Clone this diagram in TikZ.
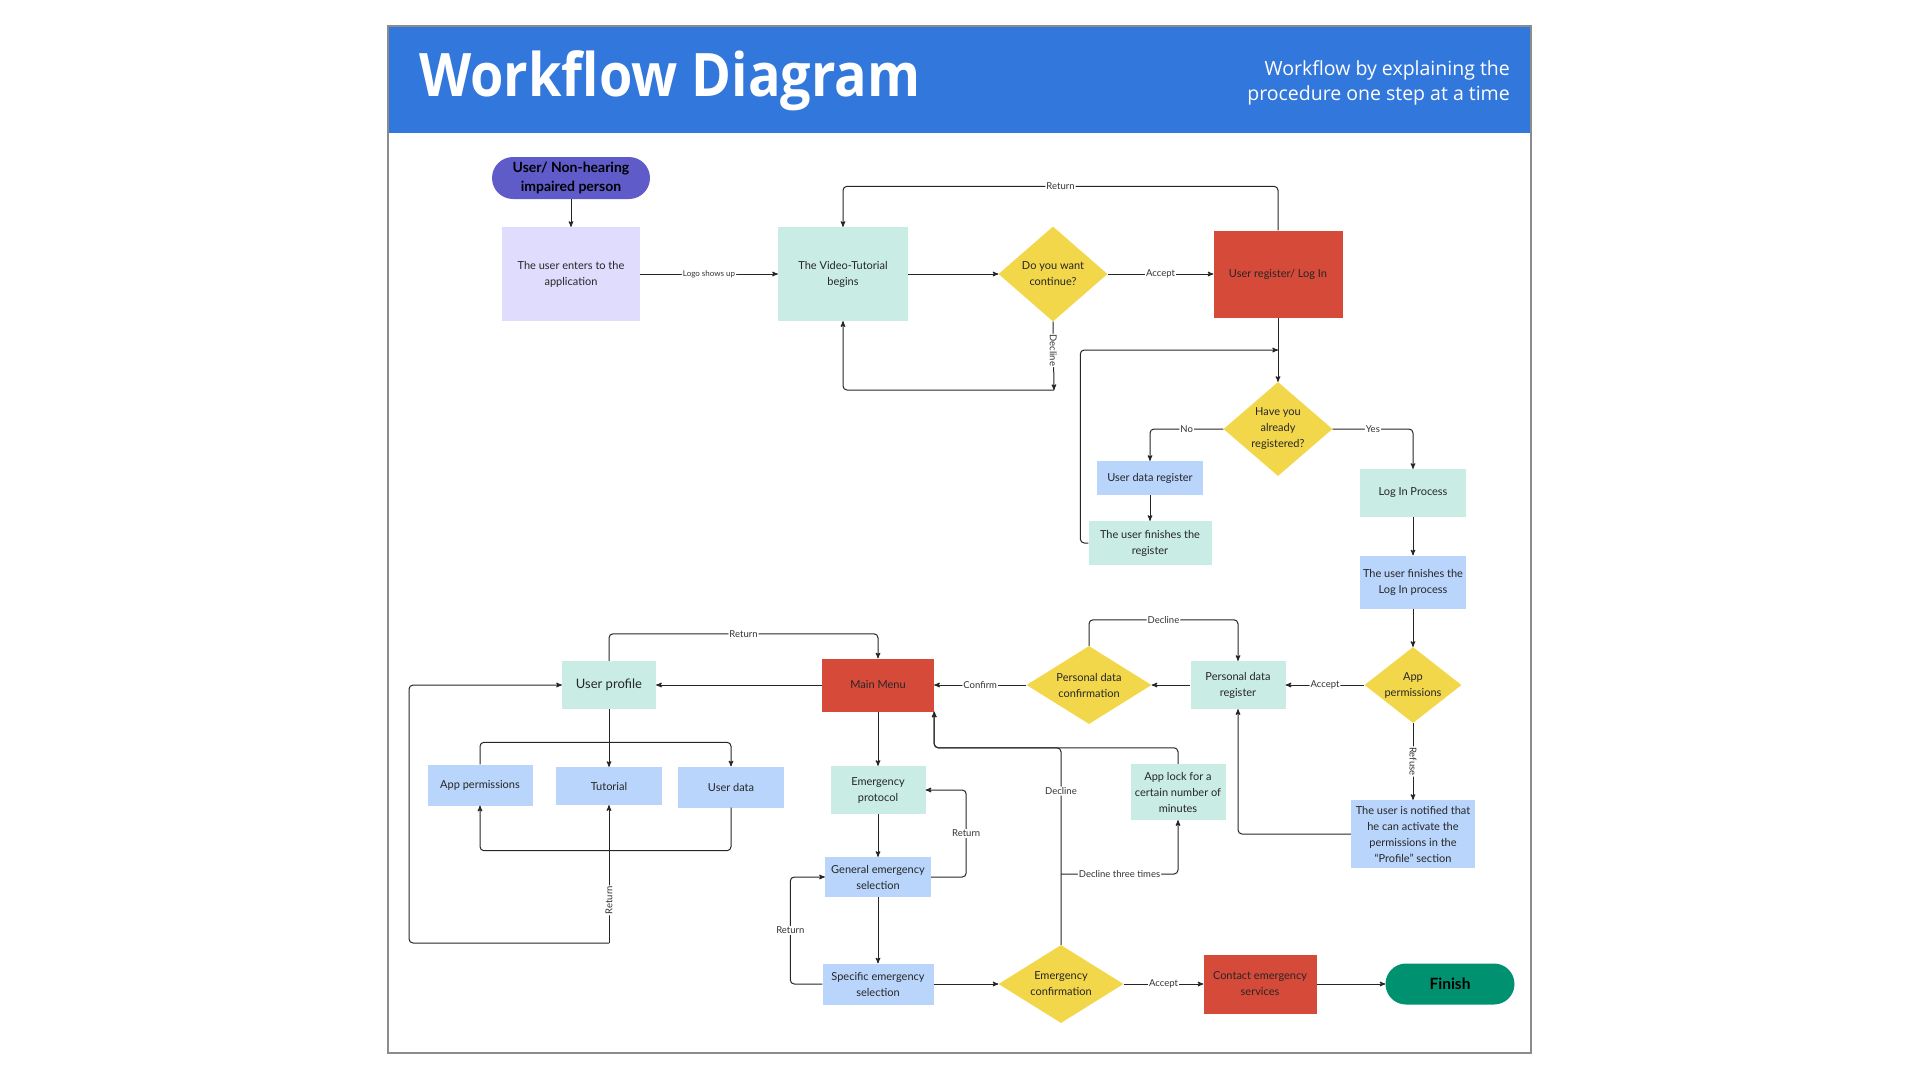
\documentclass[tikz,border=0pt]{standalone}
\usepackage{fontspec}
\setmainfont{Lato}
\newfontfamily\headfont{Open Sans}
\usepackage{graphicx}
\usetikzlibrary{shapes,arrows}

\definecolor{headblue}{HTML}{3277DB}
\definecolor{pillpurple}{HTML}{5F5BC8}
\definecolor{lavender}{HTML}{E0DCFE}
\definecolor{mint}{HTML}{C9ECE4}
\definecolor{askyellow}{HTML}{F3D74B}
\definecolor{alertred}{HTML}{D64A3A}
\definecolor{skyblue}{HTML}{B9D5FB}
\definecolor{finishgreen}{HTML}{009170}
\definecolor{framegray}{HTML}{8C8C8C}

\begin{document}
\begin{tikzpicture}[x=1pt,y=-1pt,>=stealth',font=\fontsize{11}{16}\selectfont]
\tikzstyle{box}=[rectangle,inner sep=0pt,align=center,text=black!85]
\tikzstyle{pill}=[rectangle,inner sep=0pt,align=center,font=\bfseries\fontsize{14}{19}\selectfont]
\tikzstyle{ask}=[diamond,fill=askyellow,inner sep=0pt,align=center,text=black!85]
\tikzstyle{lbl}=[fill=white,inner sep=1pt,font=\fontsize{9.5}{11}\selectfont,text=black!80]
\tikzstyle{link}=[->,draw=black!85,line width=1pt,rounded corners=4pt]

\useasboundingbox (0,0) rectangle (1920,1080);
\fill[headblue] (388,26) rectangle (1531,133);
\draw[framegray,line width=1.5pt] (388,26) rectangle (1531,1053);
\node[anchor=base west,inner sep=0pt,text=white] (title) at (419,96)
  {\scalebox{0.9}[1]{\headfont\bfseries\fontsize{60}{60}\selectfont Workflow Diagram}};
\node[anchor=north east,inner sep=0pt,align=right,text=white,font=\headfont\fontsize{19.5}{25}\selectfont] (subtitle) at (1510,60)
  {Workflow by explaining the\\procedure one step at a time};

% top row
\node[pill,fill=pillpurple,rounded corners=21pt,minimum width=158,minimum height=42] (user) at (571,178) {User/ Non-hearing\\impaired person};
\node[box,fill=lavender,minimum width=138,minimum height=94] (enter) at (571,274) {The user enters to the\\application};
\node[box,fill=mint,minimum width=130,minimum height=94] (video) at (843,274) {The Video-Tutorial\\begins};
\node[ask,aspect=1.15,minimum width=109,minimum height=95] (cont) at (1053,274) {Do you want\\continue?};
\node[box,fill=alertred,minimum width=129,minimum height=87] (login) at (1278,274) {User register/ Log In};
\coordinate (dec) at (1054,390);
\coordinate (regjoin) at (1278,350);

% register / log in
\node[ask,aspect=1.16,minimum width=109,minimum height=94] (have) at (1278,429) {Have you\\already\\registered?};
\node[box,fill=skyblue,minimum width=106,minimum height=34] (udreg) at (1150,478) {User data register};
\node[box,fill=mint,minimum width=123,minimum height=44] (ufreg) at (1150,543) {The user finishes the\\register};
\node[box,fill=mint,minimum width=106,minimum height=48] (lip) at (1413,493) {Log In Process};
\node[box,fill=skyblue,minimum width=106,minimum height=53] (uflog) at (1413,582) {The user finishes the\\Log In process};

% permissions and personal data
\node[ask,aspect=1.28,minimum width=97,minimum height=76] (appperm) at (1413,685) {App\\permissions};
\node[box,fill=skyblue,minimum width=124,minimum height=68] (notif) at (1413,834) {The user is notified that\\he can activate the\\permissions in the\\“Profile” section};
\node[box,fill=mint,minimum width=95,minimum height=48] (pdr) at (1238,685) {Personal data\\register};
\node[ask,aspect=1.6,minimum width=125,minimum height=78] (pdc) at (1089,685) {Personal data\\confirmation};
\node[box,fill=alertred,minimum width=112,minimum height=53] (mm) at (878,685) {Main Menu};

% profile
\node[box,fill=mint,minimum width=94,minimum height=48,font=\fontsize{13}{16}\selectfont] (profile) at (609,685) {User profile};
\node[box,fill=skyblue,minimum width=105,minimum height=41] (perms) at (480,785) {App permissions};
\node[box,fill=skyblue,minimum width=106,minimum height=38] (tut) at (609,786) {Tutorial};
\node[box,fill=skyblue,minimum width=106,minimum height=41] (udata) at (731,787) {User data};
\coordinate (tret) at (609,943);

% emergency
\node[box,fill=mint,minimum width=95,minimum height=48] (ep) at (878,790) {Emergency\\protocol};
\node[box,fill=skyblue,minimum width=106,minimum height=40] (ges) at (878,877) {General emergency\\selection};
\node[box,fill=skyblue,minimum width=111,minimum height=41] (ses) at (878,984) {Specific emergency\\selection};
\node[ask,aspect=1.6,minimum width=125,minimum height=78] (ecd) at (1061,984) {Emergency\\confirmation};
\node[box,fill=alertred,minimum width=113,minimum height=59] (ces) at (1260,984) {Contact emergency\\services};
\node[pill,fill=finishgreen,rounded corners=20.5pt,minimum width=129,minimum height=41,font=\bfseries\fontsize{15.5}{18}\selectfont] (fin) at (1450,984) {Finish};
\node[box,fill=mint,minimum width=95,minimum height=56] (applock) at (1178,792) {App lock for a\\certain number of\\minutes};
\coordinate (dt) at (1061,874);

% connectors
\draw[link] (user) -- (enter);
\draw[link] (enter) -- node[lbl,font=\fontsize{8}{9}\selectfont] {Logo shows up} (video);
\draw[link] (video) -- (cont);
\draw[link] (cont) -- node[lbl] {Accept} (login);
\draw[link] (login.north) -- ++(0,-44) -| node[lbl,pos=0.25] {Return} (video.north);
\draw[link] (cont.south) -- node[lbl,rotate=-90,pos=0.42] {Decline} (dec);
\draw[link] (dec) -| (video.south);
\draw[link] (login) -- (have);
\draw[link] (ufreg.west) -- ++(-8,0) |- (regjoin);
\draw[link] (have.west) -| node[lbl,pos=0.25] {No} (udreg.north);
\draw[link] (have.east) -| node[lbl,pos=0.25] {Yes} (lip.north);
\draw[link] (udreg) -- (ufreg);
\draw[link] (lip) -- (uflog);
\draw[link] (uflog) -- (appperm);
\draw[link] (appperm) -- node[lbl] {Accept} (pdr);
\draw[link] (appperm) -- node[lbl,rotate=-90] {Refuse} (notif);
\draw[link] (notif.west) -| (pdr.south);
\draw[link] (pdr) -- (pdc);
\draw[link] (pdc.north) -- ++(0,-26) -| node[lbl,pos=0.25] {Decline} (pdr.north);
\draw[link] (pdc) -- node[lbl] {Confirm} (mm);
\draw[link] (mm) -- (profile);
\draw[link] (profile.north) -- ++(0,-27) -| node[lbl,pos=0.25] {Return} (mm.north);
\draw[link] (mm) -- (ep);
\draw[link] (profile) -- (tut);
\draw[link] (perms.north) -- ++(0,-22) -| (udata.north);
\draw[link] (udata.south) -- ++(0,43) -| (perms.south);
\draw[link] (tret) -- node[lbl,rotate=90,pos=0.31] {Return} (tut);
\draw[link] (tret) -- ++(-200,0) |- (profile.west);
\draw[link] (ep) -- (ges);
\draw[link] (ges) -- (ses);
\draw[link] (ges.east) -- ++(35,0) |- node[lbl,pos=0.25] {Return} (ep.east);
\draw[link] (ses.west) -- ++(-32,0) |- node[lbl,pos=0.25] {Return} (ges.west);
\draw[link] (ses) -- (ecd);
\draw[link] (ecd) -- node[lbl] {Accept} (ces);
\draw[link] (ces) -- (fin);
\draw[link] (ecd.north) -- node[lbl,pos=0.78] {Decline} ++(0,-197) -| (mm.south east);
\draw[link] (applock.north) -- ++(0,-16) -| (mm.south east);
\draw[link] (dt) -| node[lbl,pos=0.25] {Decline three times} (applock.south);
\end{tikzpicture}
\end{document}
